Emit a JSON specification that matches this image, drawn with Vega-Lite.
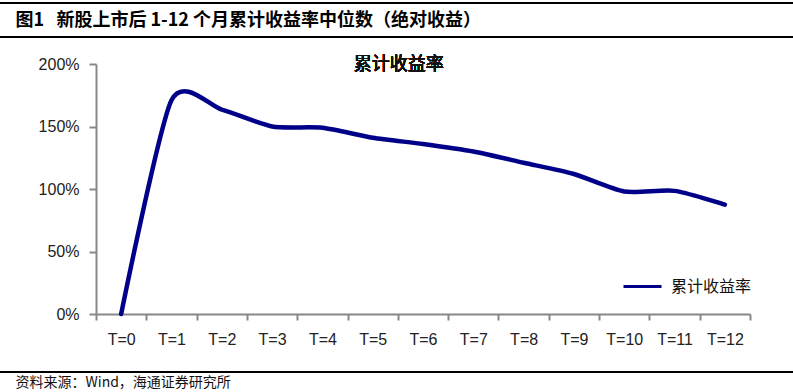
{
  "$schema": "https://vega.github.io/schema/vega-lite/v6.json",
  "autosize": {"type": "none"},
  "width": 793,
  "height": 392,
  "padding": 0,
  "background": "white",
  "config": {
    "view": {"stroke": null},
    "axis": {"grid": false}
  },
  "data": {
    "values": [
      {"t": "T=0", "v": 0.0, "s": "累计收益率"},
      {"t": "T=1", "v": 1.71, "s": "累计收益率"},
      {"t": "T=2", "v": 1.635, "s": "累计收益率"},
      {"t": "T=3", "v": 1.50, "s": "累计收益率"},
      {"t": "T=4", "v": 1.49, "s": "累计收益率"},
      {"t": "T=5", "v": 1.41, "s": "累计收益率"},
      {"t": "T=6", "v": 1.36, "s": "累计收益率"},
      {"t": "T=7", "v": 1.30, "s": "累计收益率"},
      {"t": "T=8", "v": 1.21, "s": "累计收益率"},
      {"t": "T=9", "v": 1.12, "s": "累计收益率"},
      {"t": "T=10", "v": 0.98, "s": "累计收益率"},
      {"t": "T=11", "v": 0.985, "s": "累计收益率"},
      {"t": "T=12", "v": 0.875, "s": "累计收益率"}
    ]
  },
  "encoding": {
    "x": {
      "field": "t",
      "type": "ordinal",
      "sort": null,
      "bandPosition": 0.5,
      "scale": {"type": "band", "range": [96, 750], "paddingInner": 0, "paddingOuter": 0},
      "axis": {
        "orient": "bottom",
        "offset": -78,
        "tickBand": "extent",
        "tickSize": 6,
        "tickColor": "#888888",
        "tickWidth": 2,
        "domainColor": "#888888",
        "domainWidth": 2,
        "labelAngle": 0,
        "labelFont": "Liberation Sans",
        "labelFontSize": 16,
        "labelColor": "#222222",
        "labelPadding": 11,
        "title": "资料来源：Wind，海通证券研究所",
        "titleFont": "Noto Sans CJK SC",
        "titleFontSize": 14,
        "titleFontWeight": "normal",
        "titleColor": "#111111",
        "titleX": 15,
        "titleY": 68,
        "titleAnchor": null,
        "titleAlign": "left",
        "titleBaseline": "middle"
      }
    },
    "y": {
      "field": "v",
      "type": "quantitative",
      "scale": {"domain": [0, 2], "range": [314, 64], "nice": false, "zero": false},
      "axis": {
        "orient": "left",
        "offset": -96,
        "values": [0, 0.5, 1, 1.5, 2],
        "format": ".0%",
        "tickSize": 7,
        "tickColor": "#888888",
        "tickWidth": 2,
        "domainColor": "#888888",
        "domainWidth": 2,
        "labelFont": "Liberation Sans",
        "labelFontSize": 16,
        "labelColor": "#222222",
        "labelPadding": 10,
        "title": "图1\u00a0\u00a0\u00a0新股上市后\u00a01-12\u00a0个月累计收益率中位数（绝对收益）",
        "titleFont": "Noto Sans CJK SC",
        "titleFontSize": 18,
        "titleFontWeight": "bold",
        "titleColor": "#000000",
        "titleAngle": 0,
        "titleX": -81,
        "titleY": 20,
        "titleAlign": "left",
        "titleBaseline": "middle",
        "titleAnchor": null
      }
    }
  },
  "layer": [
    {
      "mark": {"type": "rule", "color": "#000000", "strokeWidth": 1.3},
      "encoding": {"x": null, "y": {"datum": 2.488}}
    },
    {
      "mark": {"type": "rule", "color": "#000000", "strokeWidth": 1.3},
      "encoding": {"x": null, "y": {"datum": 2.216}}
    },
    {
      "mark": {"type": "rule", "color": "#000000", "strokeWidth": 1.3},
      "encoding": {"x": null, "y": {"datum": -0.464}}
    },
    {
      "mark": {"type": "line", "interpolate": "cardinal", "tension": 0.3, "strokeWidth": 4.5, "strokeCap": "round"},
      "encoding": {
        "color": {
          "field": "s",
          "type": "nominal",
          "scale": {"range": ["#000088"]},
          "legend": {
            "title": null,
            "orient": "none",
            "legendX": 622,
            "legendY": 266,
            "padding": 0,
            "symbolType": "stroke",
            "symbolSize": 1444,
            "symbolStrokeWidth": 3,
            "labelFont": "Noto Sans CJK SC",
            "labelFontSize": 16,
            "labelColor": "#111111",
            "labelOffset": 8
          }
        }
      }
    },
    {
      "mark": {"type": "text", "font": "Noto Sans CJK SC", "fontSize": 18, "fontWeight": "normal", "color": "#111111", "baseline": "middle", "align": "center", "dx": 26},
      "encoding": {
        "x": {"datum": "T=5", "bandPosition": 0.5},
        "y": {"datum": 1.99},
        "text": {"value": "累计收益率"}
      }
    }
  ]
}
